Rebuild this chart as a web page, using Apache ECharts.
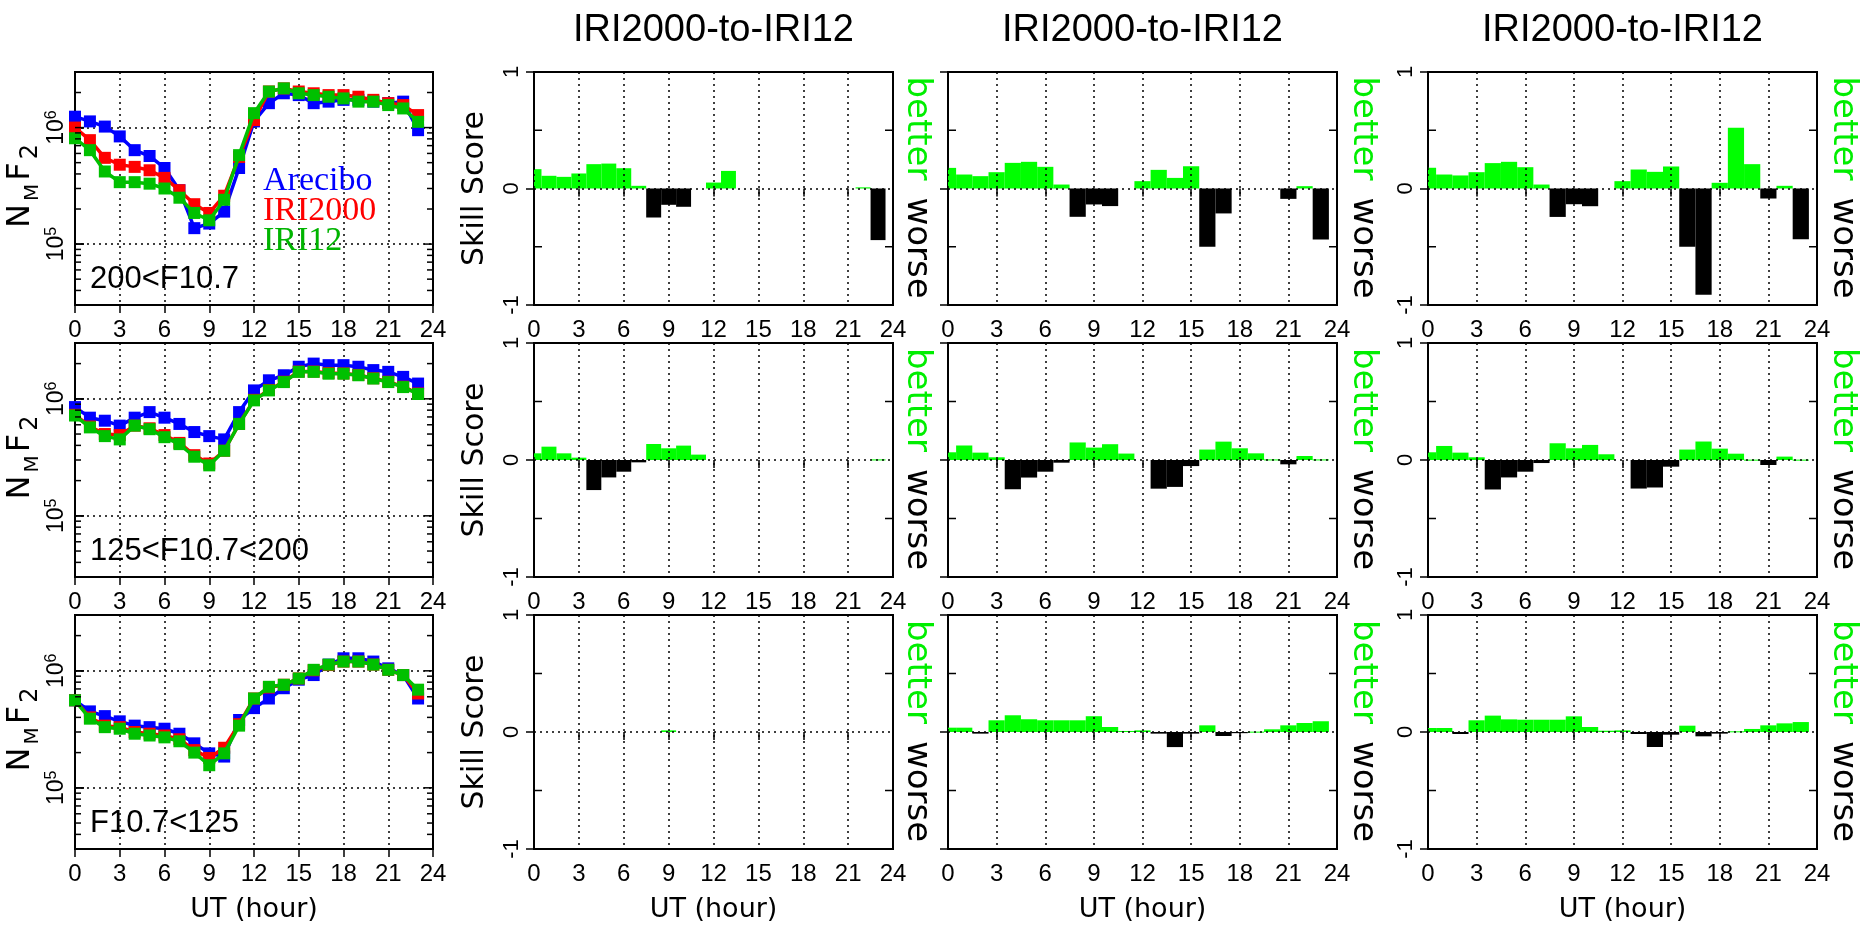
<!DOCTYPE html>
<html><head><meta charset="utf-8">
<script src="https://cdn.jsdelivr.net/npm/echarts@6/dist/echarts.min.js"></script>
<style>html,body{margin:0;padding:0;background:#fff}#c{width:1863px;height:929px}</style>
</head><body><div id="c"></div>
<script>
// ---------------- DATA ----------------
const hours = [0,1,2,3,4,5,6,7,8,9,10,11,12,13,14,15,16,17,18,19,20,21,22,23];
const rowLabels = ['200<F10.7', '125<F10.7<200', 'F10.7<125'];
const panelTitle = 'IRI2000-to-IRI12';
const seriesNames = ['Arecibo', 'IRI2000', 'IRI12'];

// NmF2 (el/cm^3), row 1: 200<F10.7
const arecibo1 = [1.24e6,1.13e6,1.02e6,8.4e5,6.4e5,5.7e5,4.5e5,2.9e5,1.37e5,1.5e5,1.9e5,4.5e5,1.13e6,1.62e6,1.97e6,1.9e6,1.62e6,1.67e6,1.73e6,1.73e6,1.67e6,1.62e6,1.67e6,9.5e5];
const iri2000_1 = [1.0e6,7.8e5,5.5e5,4.8e5,4.6e5,4.3e5,3.7e5,2.9e5,2.2e5,1.85e5,2.6e5,5.6e5,1.16e6,2.04e6,2.17e6,2.04e6,1.97e6,1.9e6,1.9e6,1.84e6,1.73e6,1.62e6,1.56e6,1.28e6];
const iri12_1   = [8.1e5,6.4e5,4.2e5,3.4e5,3.4e5,3.3e5,3.0e5,2.5e5,1.85e5,1.6e5,2.4e5,5.8e5,1.33e6,2.04e6,2.17e6,1.97e6,1.9e6,1.84e6,1.78e6,1.67e6,1.67e6,1.56e6,1.46e6,1.12e6];
// row 2: 125<F10.7<200
const arecibo2 = [8.5e5,6.9e5,6.5e5,5.9e5,6.9e5,7.7e5,6.9e5,6.1e5,5.2e5,4.8e5,4.5e5,7.7e5,1.18e6,1.44e6,1.59e6,1.88e6,2.0e6,1.94e6,1.94e6,1.88e6,1.76e6,1.7e6,1.54e6,1.35e6];
const iri2000_2 = [7.3e5,5.8e5,5.0e5,4.9e5,5.9e5,5.6e5,4.9e5,4.2e5,3.3e5,2.8e5,3.6e5,6.1e5,9.8e5,1.19e6,1.4e6,1.71e6,1.71e6,1.66e6,1.65e6,1.6e6,1.5e6,1.4e6,1.27e6,1.11e6];
const iri12_2   = [7.2e5,5.7e5,4.8e5,4.5e5,5.9e5,5.5e5,4.7e5,4.1e5,3.2e5,2.7e5,3.6e5,6.1e5,9.7e5,1.18e6,1.39e6,1.7e6,1.7e6,1.64e6,1.64e6,1.59e6,1.49e6,1.39e6,1.26e6,1.1e6];
// row 3: F10.7<125
const arecibo3 = [5.6e5,4.5e5,4.1e5,3.7e5,3.4e5,3.3e5,3.2e5,2.9e5,2.4e5,1.97e5,1.85e5,3.8e5,4.8e5,5.8e5,7.1e5,8.4e5,9.2e5,1.13e6,1.28e6,1.28e6,1.2e6,1.05e6,9.2e5,5.8e5];
const iri2000_3 = [5.6e5,4.0e5,3.4e5,3.3e5,3.0e5,2.9e5,2.8e5,2.6e5,2.1e5,1.8e5,2.2e5,3.5e5,5.8e5,7.2e5,7.6e5,8.6e5,1.01e6,1.12e6,1.2e6,1.2e6,1.13e6,1.02e6,9.2e5,6.4e5];
const iri12_3   = [5.6e5,3.9e5,3.3e5,3.2e5,2.9e5,2.8e5,2.7e5,2.5e5,2.0e5,1.56e5,1.97e5,3.4e5,5.8e5,7.3e5,7.6e5,8.6e5,1.02e6,1.13e6,1.2e6,1.2e6,1.13e6,1.02e6,9.2e5,6.9e5];

// Skill scores (rows x three skill columns)
const skill_r1_c1 = [0.166,0.109,0.1,0.129,0.209,0.214,0.174,0.023,-0.249,-0.14,-0.157,0,0.051,0.151,0,0,0,0,0,0,0,0,0.01,-0.443];
const skill_r1_c2 = [0.177,0.12,0.106,0.14,0.22,0.229,0.186,0.034,-0.243,-0.137,-0.151,0,0.063,0.16,0.091,0.191,-0.5,-0.214,0,0,0,-0.089,0.02,-0.437];
const skill_r1_c3 = [0.178,0.12,0.112,0.14,0.218,0.229,0.183,0.034,-0.244,-0.135,-0.152,0,0.063,0.163,0.143,0.189,-0.501,-0.911,0.049,0.521,0.209,-0.086,0.023,-0.436];
const skill_r2_c1 = [0.057,0.114,0.057,0.02,-0.257,-0.149,-0.1,-0.02,0.137,0.1,0.123,0.046,0,0,0,0,0,0,0,0,0,0,0,0.005];
const skill_r2_c2 = [0.066,0.124,0.063,0.023,-0.25,-0.15,-0.1,-0.023,0.15,0.106,0.135,0.055,0,-0.245,-0.23,-0.052,0.089,0.157,0.1,0.057,0.005,-0.037,0.034,0.005];
const skill_r2_c3 = [0.066,0.12,0.063,0.023,-0.252,-0.149,-0.1,-0.026,0.143,0.1,0.129,0.049,0,-0.244,-0.235,-0.057,0.089,0.158,0.097,0.054,0.003,-0.043,0.029,0.003];
const skill_r3_c1 = [0,0,0,0,0,0,0,0,0,0.014,0,0,0,0,0,0,0,0,0,0,0,0,0,0];
const skill_r3_c2 = [0.037,0.037,-0.014,0.1,0.143,0.109,0.1,0.1,0.1,0.135,0.043,0.009,0.014,-0.014,-0.129,-0.014,0.057,-0.034,-0.01,0.003,0.023,0.057,0.077,0.092];
const skill_r3_c3 = [0.034,0.034,-0.017,0.1,0.14,0.108,0.105,0.105,0.105,0.134,0.043,0.011,0.014,-0.017,-0.128,-0.023,0.054,-0.037,-0.014,0.006,0.026,0.057,0.074,0.085];

const nmf2Rows = [[arecibo1, iri2000_1, iri12_1],[arecibo2, iri2000_2, iri12_2],[arecibo3, iri2000_3, iri12_3]];
const skillRows = [[skill_r1_c1, skill_r1_c2, skill_r1_c3],[skill_r2_c1, skill_r2_c2, skill_r2_c3],[skill_r3_c1, skill_r3_c2, skill_r3_c3]];

// ---------------- LAYOUT / STYLE ----------------
const COLS = [[75,433],[534,893],[948,1337],[1428,1817]];
const ROWS = [[72,305],[343,577],[615,849]];
const FONT = '"Liberation Sans", Arial, sans-serif';
const DJV = '"DejaVu Sans", sans-serif';
const lineColors = ['#0000ff', '#ff0000', '#00c000'];
const dotted = {color:'#000', width:1.5, type:[2,4]};
const tickStyle = {color:'#000', width:1.5};

const minorLogTicks = [];
for (let e = 4; e <= 6; e++) for (let m = 2; m <= 9; m++) { const v = m * Math.pow(10, e); if (v > 3e4 && v < 3e6) minorLogTicks.push([0, v, 6]); }
const majorLogTicksRight = [[0, 1e5, 9], [0, 1e6, 9]];

function logFmt(v) {
  const e = Math.log10(v), r = Math.round(e);
  return Math.abs(e - r) < 1e-6 ? '{b|10}{sup|' + r + '}' : '';
}
function tickRender(params, api) {
  const cs = params.coordSys;
  const y = api.coord([0, api.value(1)])[1];
  const len = api.value(2);
  const kids = [{type:'line', shape:{x1:cs.x+cs.width-len, y1:y, x2:cs.x+cs.width, y2:y}, style:{stroke:'#000', lineWidth:1.5}}];
  if (api.value(3) !== 1) kids.push({type:'line', shape:{x1:cs.x, y1:y, x2:cs.x+len, y2:y}, style:{stroke:'#000', lineWidth:1.5}});
  return {type:'group', children:kids};
}
function barRender(params, api) {
  const h = api.value(0), v = api.value(1);
  if (!v) return;
  const p0 = api.coord([h - 0.5, 0]), p1 = api.coord([h + 0.5, v]);
  const rect = {x:Math.min(p0[0],p1[0]), y:Math.min(p0[1],p1[1]), width:Math.abs(p1[0]-p0[0]), height:Math.max(1, Math.abs(p1[1]-p0[1]))};
  const cs = params.coordSys;
  const c = echarts.graphic.clipRectByRect(rect, {x:cs.x, y:cs.y, width:cs.width, height:cs.height});
  if (!c) return;
  return {type:'rect', shape:c, style:{fill: v > 0 ? '#00ff00' : '#000000'}};
}

const grid = [], xAxis = [], yAxis = [], series = [], title = [], graphic = [];

function makeX(g, r, z) {
  return {gridIndex:g, type:'value', min:0, max:24, interval:3, z:z,
    axisLine:{show:false},
    axisTick:{show:true, inside:false, length:8, lineStyle:tickStyle},
    axisLabel:{show:true, color:'#000', fontSize:24, fontFamily:FONT, margin:13},
    splitLine:{show:true, lineStyle:dotted},
    name: r === 2 ? 'UT (hour)' : '', nameLocation:'middle', nameGap:47,
    nameTextStyle:{color:'#000', fontSize:27, fontFamily:DJV}};
}

for (let r = 0; r < 3; r++) {
  for (let c = 0; c < 4; c++) {
    const g = grid.length;
    grid.push({left:COLS[c][0], top:ROWS[r][0], width:COLS[c][1]-COLS[c][0], height:ROWS[r][1]-ROWS[r][0],
      show:true, borderColor:'#000', borderWidth:2, backgroundColor:'rgba(0,0,0,0)', containLabel:false, outerBoundsMode:'none'});
    const xi = xAxis.length;
    if (c === 0) {
      xAxis.push(makeX(g, r, 0));
      const yi = yAxis.length;
      yAxis.push({gridIndex:g, type:'log', logBase:10, min:3e4, max:3e6,
        axisLine:{show:false},
        axisTick:{show:true, inside:true, length:9, lineStyle:tickStyle},
        axisLabel:{rotate:90, color:'#000', margin:7, formatter:logFmt, fontFamily:FONT,
          rich:{b:{fontSize:23, fontFamily:FONT, color:'#000', lineHeight:24, verticalAlign:'bottom'},
                sup:{fontSize:16, fontFamily:FONT, color:'#000', verticalAlign:'top'}}},
        splitLine:{show:true, lineStyle:dotted},
        name:'{n|N}{m|M}{n|F}{t|2}', nameLocation:'middle', nameRotate:90, nameGap:31,
        nameTextStyle:{padding:[0,0,0,4], rich:{
          n:{fontSize:32, fontFamily:DJV, color:'#000', lineHeight:38, verticalAlign:'top', padding:[0,2]},
          m:{fontSize:20, fontFamily:DJV, color:'#000', verticalAlign:'bottom', padding:[0,1]},
          t:{fontSize:24, fontFamily:DJV, color:'#000', verticalAlign:'bottom', padding:[0,1]}}}});
      const data = nmf2Rows[r];
      for (let s = 0; s < 3; s++) {
        series.push({type:'line', name:seriesNames[s], xAxisIndex:xi, yAxisIndex:yi,
          data: hours.map((h,i) => [h, data[s][i]]),
          symbol:'rect', symbolSize:12, showSymbol:true, animation:false,
          lineStyle:{color:lineColors[s], width:3.5}, itemStyle:{color:lineColors[s]}, z:2+s});
      }
      series.push({type:'custom', xAxisIndex:xi, yAxisIndex:yi, silent:true, animation:false, z:6,
        data: minorLogTicks.concat(majorLogTicksRight.map(t => [t[0], t[1], t[2], 1])), renderItem:tickRender});
      graphic.push({type:'text', x:90, y:ROWS[r][1]-26, silent:true,
        style:{text:rowLabels[r], fontSize:31, fontFamily:FONT, fill:'#000', align:'left', verticalAlign:'middle'}});
    } else {
      xAxis.push(makeX(g, r, 5));
      const yi = yAxis.length;
      yAxis.push({gridIndex:g, type:'value', min:-1, max:1, interval:1, z:5,
        axisLine:{show:false},
        axisTick:{show:true, inside:false, length:8, lineStyle:tickStyle},
        axisLabel:{show: c !== 2, rotate:90, color:'#000', fontSize:22, fontFamily:FONT, margin:11},
        splitLine:{show:true, lineStyle:dotted},
        name: c === 1 ? 'Skill Score' : '', nameLocation:'middle', nameRotate:90, nameGap:44,
        nameTextStyle:{color:'#000', fontSize:30, fontFamily:DJV}});
      series.push({type:'custom', xAxisIndex:xi, yAxisIndex:yi, animation:false, z:2,
        name:'skill', data: hours.map((h,i) => [h, skillRows[r][c-1][i]]), renderItem:barRender});
      series.push({type:'custom', xAxisIndex:xi, yAxisIndex:yi, silent:true, animation:false, z:6,
        data:[[0,-0.5,8],[0,0.5,8]], renderItem:tickRender});
      const cx = COLS[c][1] + (c === 1 ? 24 : 26);
      const zy = (ROWS[r][0] + ROWS[r][1]) / 2;
      graphic.push({type:'text', x:cx, y:zy-8, rotation:-Math.PI/2, silent:true,
        style:{text:'better', fontSize:34, fontFamily:DJV, fill:'#00ee00', align:'right', verticalAlign:'middle'}});
      graphic.push({type:'text', x:cx, y:zy+9, rotation:-Math.PI/2, silent:true,
        style:{text:'worse', fontSize:34, fontFamily:DJV, fill:'#000', align:'left', verticalAlign:'middle'}});
      if (r === 0) {
        title.push({text:panelTitle, left:(COLS[c][0]+COLS[c][1])/2, top:12, textAlign:'center', padding:0,
          textStyle:{fontSize:38, fontWeight:'normal', fontFamily:FONT, color:'#000'}});
      }
    }
  }
}

const chart = echarts.init(document.getElementById('c'), null, {renderer:'canvas', width:1863, height:929});
chart.setOption({
  animation:false,
  backgroundColor:'#ffffff',
  title: title,
  legend: {show:true, orient:'vertical', left:258, top:164, itemGap:-4, itemWidth:0, itemHeight:0, icon:'none',
    selectedMode:false, padding:0,
    textStyle:{fontFamily:'"Liberation Serif", "Times New Roman", serif', fontSize:34},
    data: seriesNames.map((n,i) => ({name:n, textStyle:{color:lineColors[i] === '#00c000' ? '#00b400' : lineColors[i]}}))},
  grid: grid, xAxis: xAxis, yAxis: yAxis, series: series, graphic: graphic
});
</script>
</body></html>
